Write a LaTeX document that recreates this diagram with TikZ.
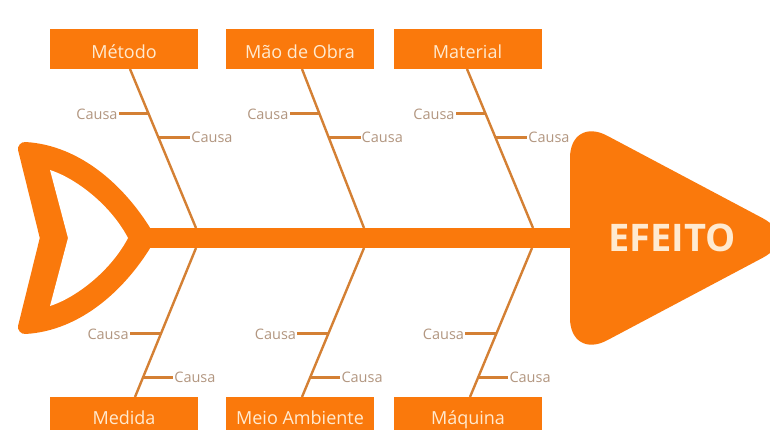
\documentclass[tikz,border=0pt]{standalone}
\usepackage{fontspec}
\setmainfont{Open Sans}
\usetikzlibrary{calc}
\definecolor{fishor}{RGB}{250,121,12}
\definecolor{bonecol}{RGB}{212,128,52}
\definecolor{causecol}{RGB}{178,150,128}
\definecolor{boxtext}{RGB}{255,234,208}
\tikzset{
  catbox/.style={fill=fishor, minimum width=148pt, minimum height=40pt, inner sep=0pt,
    text=boxtext, font=\fontsize{18}{20}\selectfont, text depth=0pt},
  topbox/.style={catbox, text height=20pt},
  botbox/.style={catbox, text height=14pt},
  bone/.style={draw=bonecol, line width=2.4pt},
  twig/.style={draw=bonecol, line width=3pt},
  causa/.style={text=causecol, font=\fontsize{14.5}{15}\selectfont, inner sep=1pt},
  spine/.style={draw=fishor, line width=20pt},
}
\begin{document}
\begin{tikzpicture}[x=1pt,y=-1pt]
\useasboundingbox (0,0) rectangle (770,430);
% tail
\filldraw[fill=fishor, draw=fishor, line width=14pt, line join=round]
  (47,238) -- (25,149) .. controls (78,152) and (122,193) .. (148,238)
  .. controls (122,283) and (78,324) .. (25,327) -- cycle;
\fill[white]
  (50,170) .. controls (75,178) and (110,204) .. (128,238)
  .. controls (110,272) and (75,298) .. (50,306) -- (68,238) -- cycle;
% spine
\coordinate (spL) at (145,238);
\coordinate (spR) at (580,238);
\draw[spine] (spL) -- (spR);
% head
\fill[fishor, rounded corners=42pt] (570,238) -- (570,116) -- (800,238) -- (570,360) -- cycle;
\node[text=boxtext, font=\bfseries\fontsize{38}{40}\selectfont, inner sep=0pt] (efeito) at (672,238) {EFEITO};
% top bones
\foreach \n/\ax/\bx in {1/130/196, 2/302/364, 3/467/533}{
  \coordinate (t\n a) at (\ax,69);
  \coordinate (t\n b) at (\bx,228);
  \path (t\n a) -- (t\n b) coordinate[pos=0.283] (t\n l) coordinate[pos=0.428] (t\n r);
  \node[causa, anchor=east] (ct\n l) at ($(t\n l)+(-30,0)$) {Causa};
  \node[causa, anchor=west] (ct\n r) at ($(t\n r)+(32,0)$) {Causa};
  \draw[bone] (t\n a) -- (t\n b);
  \draw[twig] (t\n l) -- (ct\n l);
  \draw[twig] (t\n r) -- (ct\n r);
}
% bottom bones
\foreach \n/\ax/\bx in {1/196/135, 2/364/302, 3/532/470}{
  \coordinate (b\n a) at (\ax,248);
  \coordinate (b\n b) at (\bx,397);
  \path (b\n a) -- (b\n b) coordinate[pos=0.577] (b\n l) coordinate[pos=0.866] (b\n r);
  \node[causa, anchor=east] (cb\n l) at ($(b\n l)+(-31,0)$) {Causa};
  \node[causa, anchor=west] (cb\n r) at ($(b\n r)+(30,0)$) {Causa};
  \draw[bone] (b\n a) -- (b\n b);
  \draw[twig] (b\n l) -- (cb\n l);
  \draw[twig] (b\n r) -- (cb\n r);
}
% category boxes
\node[topbox] (metodo) at (124,49) {Método};
\node[topbox] (maoobra) at (300,49) {Mão de Obra};
\node[topbox] (material) at (467.5,49) {Material};
\node[botbox] (medida) at (124,417) {Medida};
\node[botbox] (meioamb) at (300,417) {Meio Ambiente};
\node[botbox] (maquina) at (468,417) {Máquina};
\end{tikzpicture}
\end{document}
